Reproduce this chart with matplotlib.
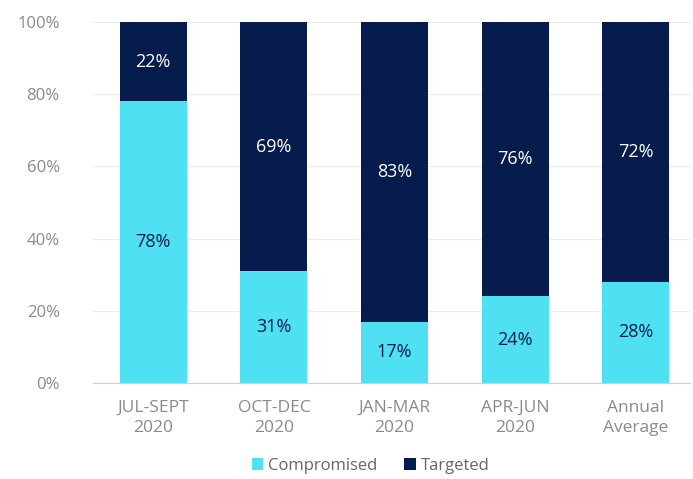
import matplotlib
matplotlib.use("Agg")
import matplotlib.pyplot as plt
import numpy as np

categories = ["JUL-SEPT\n2020", "OCT-DEC\n2020", "JAN-MAR\n2020", "APR-JUN\n2020", "Annual\nAverage"]
compromised = [78, 31, 17, 24, 28]
targeted = [22, 69, 83, 76, 72]

cyan = "#4fe0f4"
navy = "#051c4c"
grey = "#8a8a8a"

plt.rcParams['font.family'] = ['Open Sans', 'DejaVu Sans']

fig = plt.figure(figsize=(6.93, 4.79), dpi=100)
ax = fig.add_axes([93/693, 1-383/479, (690-93)/693, (383-22)/479])

x = np.arange(len(categories))
w = 0.555
b1 = ax.bar(x, compromised, w, color=cyan, label="Compromised", zorder=2)
b2 = ax.bar(x, targeted, w, bottom=compromised, color=navy, label="Targeted", zorder=2)

for i in range(len(x)):
    ax.text(x[i], compromised[i] / 2, f"{compromised[i]}%", ha="center", va="center",
            color=navy, fontsize=13, zorder=3)
    ax.text(x[i], compromised[i] + targeted[i] / 2, f"{targeted[i]}%", ha="center", va="center",
            color="white", fontsize=13, zorder=3)

ax.set_xlim(-0.5, 4.45)
ax.set_ylim(0, 100)
ax.set_yticks([0, 20, 40, 60, 80, 100])
ax.set_yticklabels([f"{v}%" for v in [0, 20, 40, 60, 80, 100]])
ax.set_xticks(x)
ax.set_xticklabels(categories, linespacing=1.35)
ax.tick_params(axis="both", length=0, colors=grey, labelsize=12)
ax.tick_params(axis="x", labelsize=12.5)
ax.tick_params(axis="y", pad=24)
ax.tick_params(axis="x", pad=12)
ax.grid(axis="y", color="#ececec", linewidth=0.8, zorder=0)
for s in ["top", "right", "left"]:
    ax.spines[s].set_visible(False)
ax.spines["bottom"].set_color("#d0d0d0")

leg = fig.legend(handles=[b1, b2], labels=["Compromised", "Targeted"], loc="center",
                 bbox_to_anchor=(0.535, 1-466/479), ncol=2, frameon=False, fontsize=12,
                 handlelength=0.7, handleheight=0.7, handletextpad=0.3, columnspacing=1.6)
for t in leg.get_texts():
    t.set_color("#666666")

fig.savefig("out.png", dpi=100)
